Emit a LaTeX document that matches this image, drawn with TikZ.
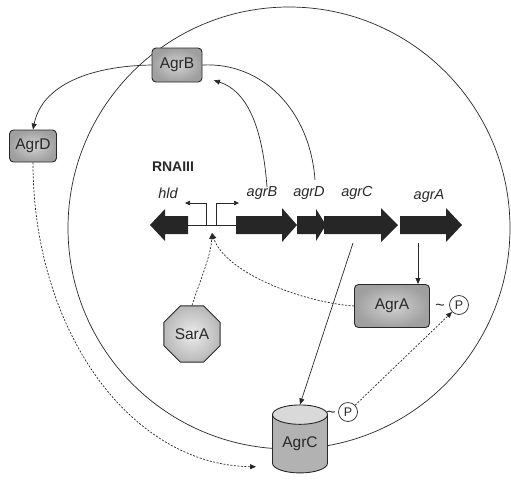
\documentclass[tikz,border=0pt]{standalone}
\usepackage{fontspec}
\setmainfont{Liberation Sans}
\usetikzlibrary{arrows.meta,shapes.geometric}
\definecolor{ink}{RGB}{40,40,40}
\definecolor{genefill}{RGB}{38,38,38}
\tikzset{
  prot/.style={draw=ink, line width=0.9pt, rounded corners=4pt, shading=radial,
    inner color=gray!35, outer color=gray!75, text=ink, font=\fontsize{15.5}{15.5}\selectfont,
    inner sep=0pt},
  link/.style={draw=ink, line width=0.7pt},
  tip/.style={-{Triangle[length=6pt,width=5pt]}},
  dlink/.style={draw=ink, line width=0.7pt, dash pattern=on 2pt off 1.5pt},
  genelabel/.style={font=\fontsize{14.5}{14.5}\selectfont\itshape, text=ink, inner sep=0pt},
  phos/.style={circle, draw=ink, line width=0.7pt, minimum size=19pt, inner sep=0pt,
    font=\fontsize{12.5}{12.5}\selectfont, text=ink},
  tilde/.style={font=\fontsize{16}{16}\selectfont, text=ink, inner sep=0pt},
  genebody/.style={fill=genefill, draw=none},
}
\begin{document}
\begin{tikzpicture}[x=1pt,y=-1pt]
\useasboundingbox (0,0) rectangle (511,483);

% membrane ring
\draw[link] (289,228) circle[radius=221pt];

% operon
\fill[genebody] (188,216) -- (165,216) -- (165,209) -- (150,225) -- (165,241) -- (165,234) -- (188,234) -- cycle;
\draw[ink, line width=0.8pt] (188,225) -- (236,225);
\fill[genebody] (236,216) -- (282,216) -- (282,208) -- (297,225) -- (282,242) -- (282,234) -- (236,234) -- cycle;
\fill[genebody] (324,216) -- (381,216) -- (381,208) -- (398,225) -- (381,242) -- (381,234) -- (324,234) -- cycle;
\fill[genebody] (297,216) -- (316,216) -- (316,209) -- (326,225) -- (316,241) -- (316,234) -- (297,234) -- cycle;
\fill[genebody] (400,216) -- (446,216) -- (446,208) -- (462,225) -- (446,242) -- (446,234) -- (400,234) -- cycle;

% promoters
\coordinate (p2) at (206,225);
\coordinate (p3) at (216,225);
\coordinate (pl) at (185,203);
\coordinate (pr) at (239,203);
\draw[link, -{Triangle[length=5pt,width=4.5pt]}] (p2) |- (pl);
\draw[link, -{Triangle[length=5pt,width=4.5pt]}] (p3) |- (pr);
\coordinate (prom) at (212,233);

% labels
\node[font=\fontsize{14}{14}\selectfont\bfseries, text=ink] (rna) at (173,167) {RNAIII};
\node[genelabel] (lhld) at (168,193) {hld};
\node[genelabel] (lagrB) at (262,193) {agrB};
\node[genelabel] (lagrD) at (309,193) {agrD};
\node[genelabel] (lagrC) at (357,193) {agrC};
\node[genelabel] (lagrA) at (429,196) {agrA};

% gene anchor points
\coordinate (gB) at (267,187);
\coordinate (gD) at (315,180);
\coordinate (gC) at (353,243);
\coordinate (gA) at (418,243);

% proteins
\node[prot, minimum width=50pt, minimum height=34pt] (AgrB) at (177,65) {AgrB};
\node[prot, minimum width=47pt, minimum height=32pt] (AgrD) at (33,146) {AgrD};
\node[prot, minimum width=75pt, minimum height=43pt] (AgrA) at (392,306) {AgrA};
\node[regular polygon, regular polygon sides=8, minimum size=61pt, draw=ink, line width=0.9pt,
  shading=radial, inner color=gray!15, outer color=gray!55, text=ink,
  font=\fontsize{15.5}{15.5}\selectfont, inner sep=0pt] (SarA) at (192,334) {SarA};
\node[cylinder, shape border rotate=90, aspect=0.55, minimum width=55pt, minimum height=68pt,
  draw=ink, line width=0.9pt, cylinder uses custom fill, cylinder body fill=gray!60,
  cylinder end fill=gray!30, text=ink, font=\fontsize{15.5}{15.5}\selectfont, inner sep=0pt] (AgrC) at (300,444) {AgrC};

% phosphates
\node[tilde] (tA) at (440,307) {\textasciitilde};
\node[phos] (PA) at (459,305) {P};
\node[tilde] (tC) at (331,414) {\textasciitilde};
\node[phos] (PC) at (348,412) {P};

% connectors
\draw[link, tip, shorten >=1pt] (gB) .. controls (262,120) and (244,90) .. (213,80);
\draw[link] (AgrB.east) .. controls (262,62) and (310,110) .. (gD);
\draw[link, tip] (AgrB.west) .. controls (90,66) and (42,85) .. (AgrD.north);
\draw[dlink, tip, shorten >=16pt] (AgrD.south) .. controls (33,330) and (130,465) .. (AgrC.west |- 0,467);
\draw[link, tip] (gC) -- (AgrC.north);
\draw[link, tip] (gA) -- (AgrA.north -| gA);
\draw[dlink, tip] (SarA.north) .. controls (202,275) and (211,255) .. (prom);
\draw[dlink, tip] (AgrA.west) .. controls (300,302) and (225,272) .. (prom);
\draw[dlink, tip] (PC) -- (PA.south west);
\end{tikzpicture}
\end{document}
